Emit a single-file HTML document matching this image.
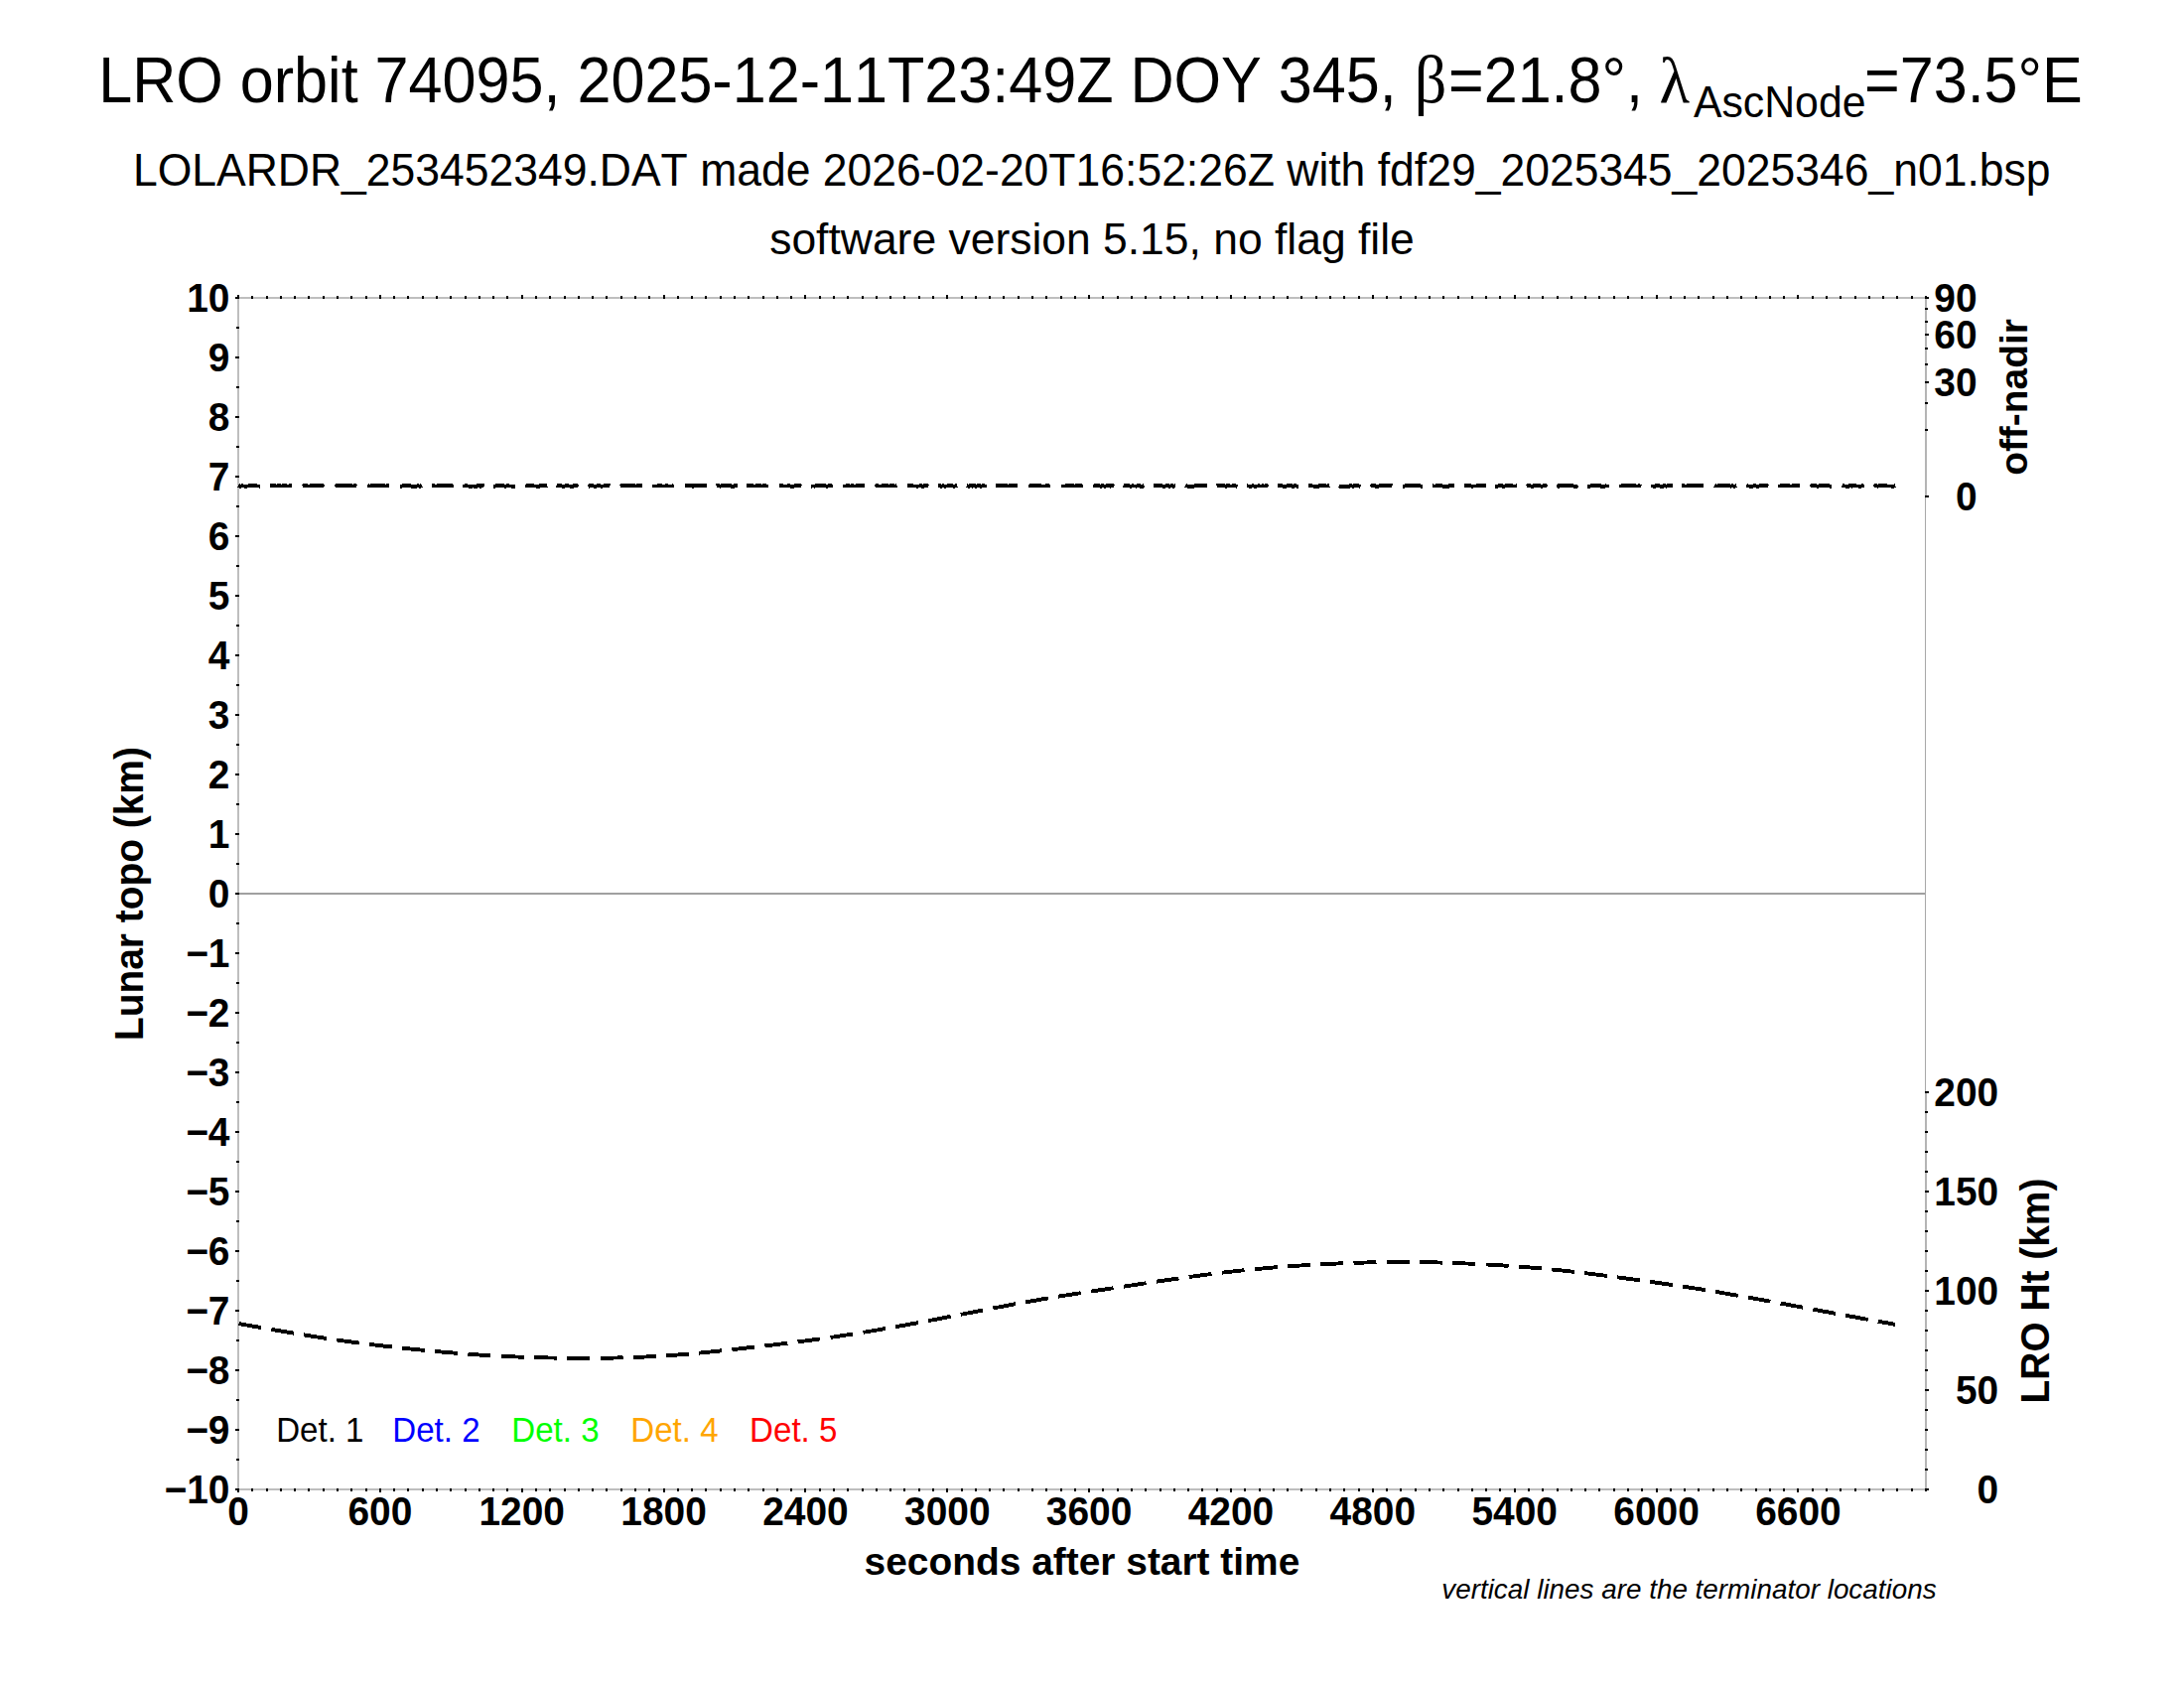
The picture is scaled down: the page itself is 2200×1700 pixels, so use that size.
<!DOCTYPE html>
<html><head><meta charset="utf-8"><title>LRO orbit 74095</title>
<style>html,body{margin:0;padding:0;background:#fff}svg{display:block}text{font-kerning:none;font-family:"Liberation Sans",Helvetica,Arial,sans-serif;fill:#000;white-space:pre}.b{font-weight:bold}.i{font-style:italic}.s{font-family:"Liberation Serif",serif}</style></head><body>
<svg width="2200" height="1700" viewBox="0 0 2200 1700">
<rect width="2200" height="1700" fill="#fff"/>
<text transform="translate(0,103.2) scale(1,1.05)" font-size="61.11"><tspan x="99.2">LRO orbit 74095, 2025-12-11T23:49Z DOY 345, </tspan><tspan class="s" font-size="64" x="1424.8">β</tspan><tspan x="1459">=21.8°, </tspan><tspan class="s" font-size="63" x="1671.5">λ</tspan><tspan font-size="42.78" x="1705.9" dy="13.90">AscNode</tspan><tspan x="1878" dy="-13.90">=73.5°E</tspan></text>
<text transform="translate(133.89,187.10) scale(1,1.045)" font-size="44.5">LOLARDR_253452349.DAT made 2026-02-20T16:52:26Z with fdf29_2025345_2025346_n01.bsp</text>
<text transform="translate(775.16,256.10)" font-size="44.44">software version 5.15, no flag file</text>
<rect x="241" y="899" width="1698" height="2" fill="#a0a0a0"/>
<g fill="#bebebe">
<rect x="239" y="299" width="2" height="1202"/>
<rect x="239" y="299" width="1702" height="2"/>
<rect x="239" y="1499" width="1702" height="2"/>
</g>
<rect x="1939" y="299" width="1" height="1202" fill="#a8a8a8"/>
<rect x="1939" y="299" width="2" height="201" fill="#b4b4b4"/>
<rect x="1939" y="1099" width="2" height="402" fill="#b4b4b4"/>
<g fill="#000">
<rect x="239.00" y="297" width="2" height="4"/>
<rect x="239.00" y="1499" width="2" height="4"/>
<rect x="253.00" y="298" width="2" height="3"/>
<rect x="253.00" y="1499" width="2" height="3"/>
<rect x="268.00" y="298" width="2" height="3"/>
<rect x="268.00" y="1499" width="2" height="3"/>
<rect x="282.00" y="298" width="2" height="3"/>
<rect x="282.00" y="1499" width="2" height="3"/>
<rect x="296.00" y="298" width="2" height="3"/>
<rect x="296.00" y="1499" width="2" height="3"/>
<rect x="310.00" y="298" width="2" height="3"/>
<rect x="310.00" y="1499" width="2" height="3"/>
<rect x="325.00" y="298" width="2" height="3"/>
<rect x="325.00" y="1499" width="2" height="3"/>
<rect x="339.00" y="298" width="2" height="3"/>
<rect x="339.00" y="1499" width="2" height="3"/>
<rect x="353.00" y="298" width="2" height="3"/>
<rect x="353.00" y="1499" width="2" height="3"/>
<rect x="368.00" y="298" width="2" height="3"/>
<rect x="368.00" y="1499" width="2" height="3"/>
<rect x="382.00" y="297" width="2" height="4"/>
<rect x="382.00" y="1499" width="2" height="4"/>
<rect x="396.00" y="298" width="2" height="3"/>
<rect x="396.00" y="1499" width="2" height="3"/>
<rect x="410.00" y="298" width="2" height="3"/>
<rect x="410.00" y="1499" width="2" height="3"/>
<rect x="425.00" y="298" width="2" height="3"/>
<rect x="425.00" y="1499" width="2" height="3"/>
<rect x="439.00" y="298" width="2" height="3"/>
<rect x="439.00" y="1499" width="2" height="3"/>
<rect x="453.00" y="298" width="2" height="3"/>
<rect x="453.00" y="1499" width="2" height="3"/>
<rect x="468.00" y="298" width="2" height="3"/>
<rect x="468.00" y="1499" width="2" height="3"/>
<rect x="482.00" y="298" width="2" height="3"/>
<rect x="482.00" y="1499" width="2" height="3"/>
<rect x="496.00" y="298" width="2" height="3"/>
<rect x="496.00" y="1499" width="2" height="3"/>
<rect x="510.00" y="298" width="2" height="3"/>
<rect x="510.00" y="1499" width="2" height="3"/>
<rect x="525.00" y="297" width="2" height="4"/>
<rect x="525.00" y="1499" width="2" height="4"/>
<rect x="539.00" y="298" width="2" height="3"/>
<rect x="539.00" y="1499" width="2" height="3"/>
<rect x="553.00" y="298" width="2" height="3"/>
<rect x="553.00" y="1499" width="2" height="3"/>
<rect x="568.00" y="298" width="2" height="3"/>
<rect x="568.00" y="1499" width="2" height="3"/>
<rect x="582.00" y="298" width="2" height="3"/>
<rect x="582.00" y="1499" width="2" height="3"/>
<rect x="596.00" y="298" width="2" height="3"/>
<rect x="596.00" y="1499" width="2" height="3"/>
<rect x="610.00" y="298" width="2" height="3"/>
<rect x="610.00" y="1499" width="2" height="3"/>
<rect x="625.00" y="298" width="2" height="3"/>
<rect x="625.00" y="1499" width="2" height="3"/>
<rect x="639.00" y="298" width="2" height="3"/>
<rect x="639.00" y="1499" width="2" height="3"/>
<rect x="653.00" y="298" width="2" height="3"/>
<rect x="653.00" y="1499" width="2" height="3"/>
<rect x="668.00" y="297" width="2" height="4"/>
<rect x="668.00" y="1499" width="2" height="4"/>
<rect x="682.00" y="298" width="2" height="3"/>
<rect x="682.00" y="1499" width="2" height="3"/>
<rect x="696.00" y="298" width="2" height="3"/>
<rect x="696.00" y="1499" width="2" height="3"/>
<rect x="710.00" y="298" width="2" height="3"/>
<rect x="710.00" y="1499" width="2" height="3"/>
<rect x="725.00" y="298" width="2" height="3"/>
<rect x="725.00" y="1499" width="2" height="3"/>
<rect x="739.00" y="298" width="2" height="3"/>
<rect x="739.00" y="1499" width="2" height="3"/>
<rect x="753.00" y="298" width="2" height="3"/>
<rect x="753.00" y="1499" width="2" height="3"/>
<rect x="768.00" y="298" width="2" height="3"/>
<rect x="768.00" y="1499" width="2" height="3"/>
<rect x="782.00" y="298" width="2" height="3"/>
<rect x="782.00" y="1499" width="2" height="3"/>
<rect x="796.00" y="298" width="2" height="3"/>
<rect x="796.00" y="1499" width="2" height="3"/>
<rect x="810.00" y="297" width="2" height="4"/>
<rect x="810.00" y="1499" width="2" height="4"/>
<rect x="825.00" y="298" width="2" height="3"/>
<rect x="825.00" y="1499" width="2" height="3"/>
<rect x="839.00" y="298" width="2" height="3"/>
<rect x="839.00" y="1499" width="2" height="3"/>
<rect x="853.00" y="298" width="2" height="3"/>
<rect x="853.00" y="1499" width="2" height="3"/>
<rect x="868.00" y="298" width="2" height="3"/>
<rect x="868.00" y="1499" width="2" height="3"/>
<rect x="882.00" y="298" width="2" height="3"/>
<rect x="882.00" y="1499" width="2" height="3"/>
<rect x="896.00" y="298" width="2" height="3"/>
<rect x="896.00" y="1499" width="2" height="3"/>
<rect x="910.00" y="298" width="2" height="3"/>
<rect x="910.00" y="1499" width="2" height="3"/>
<rect x="925.00" y="298" width="2" height="3"/>
<rect x="925.00" y="1499" width="2" height="3"/>
<rect x="939.00" y="298" width="2" height="3"/>
<rect x="939.00" y="1499" width="2" height="3"/>
<rect x="953.00" y="297" width="2" height="4"/>
<rect x="953.00" y="1499" width="2" height="4"/>
<rect x="968.00" y="298" width="2" height="3"/>
<rect x="968.00" y="1499" width="2" height="3"/>
<rect x="982.00" y="298" width="2" height="3"/>
<rect x="982.00" y="1499" width="2" height="3"/>
<rect x="996.00" y="298" width="2" height="3"/>
<rect x="996.00" y="1499" width="2" height="3"/>
<rect x="1010.00" y="298" width="2" height="3"/>
<rect x="1010.00" y="1499" width="2" height="3"/>
<rect x="1025.00" y="298" width="2" height="3"/>
<rect x="1025.00" y="1499" width="2" height="3"/>
<rect x="1039.00" y="298" width="2" height="3"/>
<rect x="1039.00" y="1499" width="2" height="3"/>
<rect x="1053.00" y="298" width="2" height="3"/>
<rect x="1053.00" y="1499" width="2" height="3"/>
<rect x="1068.00" y="298" width="2" height="3"/>
<rect x="1068.00" y="1499" width="2" height="3"/>
<rect x="1082.00" y="298" width="2" height="3"/>
<rect x="1082.00" y="1499" width="2" height="3"/>
<rect x="1096.00" y="297" width="2" height="4"/>
<rect x="1096.00" y="1499" width="2" height="4"/>
<rect x="1110.00" y="298" width="2" height="3"/>
<rect x="1110.00" y="1499" width="2" height="3"/>
<rect x="1125.00" y="298" width="2" height="3"/>
<rect x="1125.00" y="1499" width="2" height="3"/>
<rect x="1139.00" y="298" width="2" height="3"/>
<rect x="1139.00" y="1499" width="2" height="3"/>
<rect x="1153.00" y="298" width="2" height="3"/>
<rect x="1153.00" y="1499" width="2" height="3"/>
<rect x="1168.00" y="298" width="2" height="3"/>
<rect x="1168.00" y="1499" width="2" height="3"/>
<rect x="1182.00" y="298" width="2" height="3"/>
<rect x="1182.00" y="1499" width="2" height="3"/>
<rect x="1196.00" y="298" width="2" height="3"/>
<rect x="1196.00" y="1499" width="2" height="3"/>
<rect x="1210.00" y="298" width="2" height="3"/>
<rect x="1210.00" y="1499" width="2" height="3"/>
<rect x="1225.00" y="298" width="2" height="3"/>
<rect x="1225.00" y="1499" width="2" height="3"/>
<rect x="1239.00" y="297" width="2" height="4"/>
<rect x="1239.00" y="1499" width="2" height="4"/>
<rect x="1253.00" y="298" width="2" height="3"/>
<rect x="1253.00" y="1499" width="2" height="3"/>
<rect x="1268.00" y="298" width="2" height="3"/>
<rect x="1268.00" y="1499" width="2" height="3"/>
<rect x="1282.00" y="298" width="2" height="3"/>
<rect x="1282.00" y="1499" width="2" height="3"/>
<rect x="1296.00" y="298" width="2" height="3"/>
<rect x="1296.00" y="1499" width="2" height="3"/>
<rect x="1310.00" y="298" width="2" height="3"/>
<rect x="1310.00" y="1499" width="2" height="3"/>
<rect x="1325.00" y="298" width="2" height="3"/>
<rect x="1325.00" y="1499" width="2" height="3"/>
<rect x="1339.00" y="298" width="2" height="3"/>
<rect x="1339.00" y="1499" width="2" height="3"/>
<rect x="1353.00" y="298" width="2" height="3"/>
<rect x="1353.00" y="1499" width="2" height="3"/>
<rect x="1368.00" y="298" width="2" height="3"/>
<rect x="1368.00" y="1499" width="2" height="3"/>
<rect x="1382.00" y="297" width="2" height="4"/>
<rect x="1382.00" y="1499" width="2" height="4"/>
<rect x="1396.00" y="298" width="2" height="3"/>
<rect x="1396.00" y="1499" width="2" height="3"/>
<rect x="1410.00" y="298" width="2" height="3"/>
<rect x="1410.00" y="1499" width="2" height="3"/>
<rect x="1425.00" y="298" width="2" height="3"/>
<rect x="1425.00" y="1499" width="2" height="3"/>
<rect x="1439.00" y="298" width="2" height="3"/>
<rect x="1439.00" y="1499" width="2" height="3"/>
<rect x="1453.00" y="298" width="2" height="3"/>
<rect x="1453.00" y="1499" width="2" height="3"/>
<rect x="1468.00" y="298" width="2" height="3"/>
<rect x="1468.00" y="1499" width="2" height="3"/>
<rect x="1482.00" y="298" width="2" height="3"/>
<rect x="1482.00" y="1499" width="2" height="3"/>
<rect x="1496.00" y="298" width="2" height="3"/>
<rect x="1496.00" y="1499" width="2" height="3"/>
<rect x="1510.00" y="298" width="2" height="3"/>
<rect x="1510.00" y="1499" width="2" height="3"/>
<rect x="1525.00" y="297" width="2" height="4"/>
<rect x="1525.00" y="1499" width="2" height="4"/>
<rect x="1539.00" y="298" width="2" height="3"/>
<rect x="1539.00" y="1499" width="2" height="3"/>
<rect x="1553.00" y="298" width="2" height="3"/>
<rect x="1553.00" y="1499" width="2" height="3"/>
<rect x="1568.00" y="298" width="2" height="3"/>
<rect x="1568.00" y="1499" width="2" height="3"/>
<rect x="1582.00" y="298" width="2" height="3"/>
<rect x="1582.00" y="1499" width="2" height="3"/>
<rect x="1596.00" y="298" width="2" height="3"/>
<rect x="1596.00" y="1499" width="2" height="3"/>
<rect x="1610.00" y="298" width="2" height="3"/>
<rect x="1610.00" y="1499" width="2" height="3"/>
<rect x="1625.00" y="298" width="2" height="3"/>
<rect x="1625.00" y="1499" width="2" height="3"/>
<rect x="1639.00" y="298" width="2" height="3"/>
<rect x="1639.00" y="1499" width="2" height="3"/>
<rect x="1653.00" y="298" width="2" height="3"/>
<rect x="1653.00" y="1499" width="2" height="3"/>
<rect x="1668.00" y="297" width="2" height="4"/>
<rect x="1668.00" y="1499" width="2" height="4"/>
<rect x="1682.00" y="298" width="2" height="3"/>
<rect x="1682.00" y="1499" width="2" height="3"/>
<rect x="1696.00" y="298" width="2" height="3"/>
<rect x="1696.00" y="1499" width="2" height="3"/>
<rect x="1710.00" y="298" width="2" height="3"/>
<rect x="1710.00" y="1499" width="2" height="3"/>
<rect x="1725.00" y="298" width="2" height="3"/>
<rect x="1725.00" y="1499" width="2" height="3"/>
<rect x="1739.00" y="298" width="2" height="3"/>
<rect x="1739.00" y="1499" width="2" height="3"/>
<rect x="1753.00" y="298" width="2" height="3"/>
<rect x="1753.00" y="1499" width="2" height="3"/>
<rect x="1768.00" y="298" width="2" height="3"/>
<rect x="1768.00" y="1499" width="2" height="3"/>
<rect x="1782.00" y="298" width="2" height="3"/>
<rect x="1782.00" y="1499" width="2" height="3"/>
<rect x="1796.00" y="298" width="2" height="3"/>
<rect x="1796.00" y="1499" width="2" height="3"/>
<rect x="1810.00" y="297" width="2" height="4"/>
<rect x="1810.00" y="1499" width="2" height="4"/>
<rect x="1825.00" y="298" width="2" height="3"/>
<rect x="1825.00" y="1499" width="2" height="3"/>
<rect x="1839.00" y="298" width="2" height="3"/>
<rect x="1839.00" y="1499" width="2" height="3"/>
<rect x="1853.00" y="298" width="2" height="3"/>
<rect x="1853.00" y="1499" width="2" height="3"/>
<rect x="1868.00" y="298" width="2" height="3"/>
<rect x="1868.00" y="1499" width="2" height="3"/>
<rect x="1882.00" y="298" width="2" height="3"/>
<rect x="1882.00" y="1499" width="2" height="3"/>
<rect x="1896.00" y="298" width="2" height="3"/>
<rect x="1896.00" y="1499" width="2" height="3"/>
<rect x="1910.00" y="298" width="2" height="3"/>
<rect x="1910.00" y="1499" width="2" height="3"/>
<rect x="1925.00" y="298" width="2" height="3"/>
<rect x="1925.00" y="1499" width="2" height="3"/>
<rect x="1939.00" y="298" width="2" height="3"/>
<rect x="1939.00" y="1499" width="2" height="3"/>
<rect x="237" y="299" width="4" height="2"/>
<rect x="238" y="329" width="3" height="2"/>
<rect x="237" y="359" width="4" height="2"/>
<rect x="238" y="389" width="3" height="2"/>
<rect x="237" y="419" width="4" height="2"/>
<rect x="238" y="449" width="3" height="2"/>
<rect x="237" y="479" width="4" height="2"/>
<rect x="238" y="509" width="3" height="2"/>
<rect x="237" y="539" width="4" height="2"/>
<rect x="238" y="569" width="3" height="2"/>
<rect x="237" y="599" width="4" height="2"/>
<rect x="238" y="629" width="3" height="2"/>
<rect x="237" y="659" width="4" height="2"/>
<rect x="238" y="689" width="3" height="2"/>
<rect x="237" y="719" width="4" height="2"/>
<rect x="238" y="749" width="3" height="2"/>
<rect x="237" y="779" width="4" height="2"/>
<rect x="238" y="809" width="3" height="2"/>
<rect x="237" y="839" width="4" height="2"/>
<rect x="238" y="869" width="3" height="2"/>
<rect x="237" y="899" width="4" height="2"/>
<rect x="238" y="929" width="3" height="2"/>
<rect x="237" y="959" width="4" height="2"/>
<rect x="238" y="989" width="3" height="2"/>
<rect x="237" y="1019" width="4" height="2"/>
<rect x="238" y="1049" width="3" height="2"/>
<rect x="237" y="1079" width="4" height="2"/>
<rect x="238" y="1109" width="3" height="2"/>
<rect x="237" y="1139" width="4" height="2"/>
<rect x="238" y="1169" width="3" height="2"/>
<rect x="237" y="1199" width="4" height="2"/>
<rect x="238" y="1229" width="3" height="2"/>
<rect x="237" y="1259" width="4" height="2"/>
<rect x="238" y="1289" width="3" height="2"/>
<rect x="237" y="1319" width="4" height="2"/>
<rect x="238" y="1349" width="3" height="2"/>
<rect x="237" y="1379" width="4" height="2"/>
<rect x="238" y="1409" width="3" height="2"/>
<rect x="237" y="1439" width="4" height="2"/>
<rect x="238" y="1469" width="3" height="2"/>
<rect x="237" y="1499" width="4" height="2"/>
<rect x="1939" y="1499" width="4" height="2"/>
<rect x="1939" y="1479" width="3" height="2"/>
<rect x="1939" y="1459" width="3" height="2"/>
<rect x="1939" y="1439" width="3" height="2"/>
<rect x="1939" y="1419" width="3" height="2"/>
<rect x="1939" y="1399" width="4" height="2"/>
<rect x="1939" y="1379" width="3" height="2"/>
<rect x="1939" y="1359" width="3" height="2"/>
<rect x="1939" y="1339" width="3" height="2"/>
<rect x="1939" y="1319" width="3" height="2"/>
<rect x="1939" y="1299" width="4" height="2"/>
<rect x="1939" y="1279" width="3" height="2"/>
<rect x="1939" y="1259" width="3" height="2"/>
<rect x="1939" y="1239" width="3" height="2"/>
<rect x="1939" y="1219" width="3" height="2"/>
<rect x="1939" y="1199" width="4" height="2"/>
<rect x="1939" y="1179" width="3" height="2"/>
<rect x="1939" y="1159" width="3" height="2"/>
<rect x="1939" y="1139" width="3" height="2"/>
<rect x="1939" y="1119" width="3" height="2"/>
<rect x="1939" y="1099" width="4" height="2"/>
<rect x="1939" y="499.00" width="4" height="2"/>
<rect x="1939" y="432.00" width="3" height="2"/>
<rect x="1939" y="405.00" width="3" height="2"/>
<rect x="1939" y="384.00" width="4" height="2"/>
<rect x="1939" y="366.00" width="3" height="2"/>
<rect x="1939" y="350.00" width="3" height="2"/>
<rect x="1939" y="336.00" width="4" height="2"/>
<rect x="1939" y="323.00" width="3" height="2"/>
<rect x="1939" y="310.00" width="3" height="2"/>
<rect x="1939" y="299.00" width="4" height="2"/>
</g>
<text transform="translate(188.23,314.10) scale(1,1.025)" font-size="38.9" class="b">10</text>
<text transform="translate(209.87,374.10) scale(1,1.025)" font-size="38.9" class="b">9</text>
<text transform="translate(209.87,434.10) scale(1,1.025)" font-size="38.9" class="b">8</text>
<text transform="translate(209.87,494.10) scale(1,1.025)" font-size="38.9" class="b">7</text>
<text transform="translate(209.87,554.10) scale(1,1.025)" font-size="38.9" class="b">6</text>
<text transform="translate(209.87,614.10) scale(1,1.025)" font-size="38.9" class="b">5</text>
<text transform="translate(209.87,674.10) scale(1,1.025)" font-size="38.9" class="b">4</text>
<text transform="translate(209.87,734.10) scale(1,1.025)" font-size="38.9" class="b">3</text>
<text transform="translate(209.87,794.10) scale(1,1.025)" font-size="38.9" class="b">2</text>
<text transform="translate(209.87,854.10) scale(1,1.025)" font-size="38.9" class="b">1</text>
<text transform="translate(209.87,914.10) scale(1,1.025)" font-size="38.9" class="b">0</text>
<text transform="translate(187.15,974.10) scale(1,1.025)" font-size="38.9" class="b">−1</text>
<text transform="translate(187.15,1034.10) scale(1,1.025)" font-size="38.9" class="b">−2</text>
<text transform="translate(187.15,1094.10) scale(1,1.025)" font-size="38.9" class="b">−3</text>
<text transform="translate(187.15,1154.10) scale(1,1.025)" font-size="38.9" class="b">−4</text>
<text transform="translate(187.15,1214.10) scale(1,1.025)" font-size="38.9" class="b">−5</text>
<text transform="translate(187.15,1274.10) scale(1,1.025)" font-size="38.9" class="b">−6</text>
<text transform="translate(187.15,1334.10) scale(1,1.025)" font-size="38.9" class="b">−7</text>
<text transform="translate(187.15,1394.10) scale(1,1.025)" font-size="38.9" class="b">−8</text>
<text transform="translate(187.15,1454.10) scale(1,1.025)" font-size="38.9" class="b">−9</text>
<text transform="translate(165.51,1514.10) scale(1,1.025)" font-size="38.9" class="b">−10</text>
<text transform="translate(229.18,1536.30) scale(1,1.025)" font-size="38.9" class="b">0</text>
<text transform="translate(350.41,1536.30) scale(1,1.025)" font-size="38.9" class="b">600</text>
<text transform="translate(482.45,1536.30) scale(1,1.025)" font-size="38.9" class="b">1200</text>
<text transform="translate(625.30,1536.30) scale(1,1.025)" font-size="38.9" class="b">1800</text>
<text transform="translate(768.16,1536.30) scale(1,1.025)" font-size="38.9" class="b">2400</text>
<text transform="translate(911.02,1536.30) scale(1,1.025)" font-size="38.9" class="b">3000</text>
<text transform="translate(1053.87,1536.30) scale(1,1.025)" font-size="38.9" class="b">3600</text>
<text transform="translate(1196.73,1536.30) scale(1,1.025)" font-size="38.9" class="b">4200</text>
<text transform="translate(1339.59,1536.30) scale(1,1.025)" font-size="38.9" class="b">4800</text>
<text transform="translate(1482.45,1536.30) scale(1,1.025)" font-size="38.9" class="b">5400</text>
<text transform="translate(1625.30,1536.30) scale(1,1.025)" font-size="38.9" class="b">6000</text>
<text transform="translate(1768.16,1536.30) scale(1,1.025)" font-size="38.9" class="b">6600</text>
<text transform="translate(1991.57,1514.10) scale(1,1.025)" font-size="38.9" class="b">0</text>
<text transform="translate(1969.93,1414.10) scale(1,1.025)" font-size="38.9" class="b">50</text>
<text transform="translate(1948.30,1314.10) scale(1,1.025)" font-size="38.9" class="b">100</text>
<text transform="translate(1948.30,1214.10) scale(1,1.025)" font-size="38.9" class="b">150</text>
<text transform="translate(1948.30,1114.10) scale(1,1.025)" font-size="38.9" class="b">200</text>
<text transform="translate(1969.97,514.10) scale(1,1.025)" font-size="38.9" class="b">0</text>
<text transform="translate(1948.33,398.63) scale(1,1.025)" font-size="38.9" class="b">30</text>
<text transform="translate(1948.33,350.80) scale(1,1.025)" font-size="38.9" class="b">60</text>
<text transform="translate(1948.33,314.10) scale(1,1.025)" font-size="38.9" class="b">90</text>
<text transform="translate(870.57,1585.80)" font-size="38.9" class="b">seconds after start time</text>
<text transform="translate(144.20,1048.02) rotate(-90) scale(1,1.03)" font-size="38.9" class="b">Lunar topo (km)</text>
<text transform="translate(2041.70,478.86) rotate(-90)" font-size="38.9" class="b">off-nadir</text>
<text transform="translate(2064.40,1413.45) rotate(-90) scale(1,1.05)" font-size="38.9" class="b">LRO Ht (km)</text>
<text transform="translate(278.20,1451.80) scale(1,1.045)" font-size="33.1">Det. 1</text>
<text transform="translate(395.30,1451.80) scale(1,1.045)" font-size="33.1" style="fill:#0000ff">Det. 2</text>
<text transform="translate(515.30,1451.80) scale(1,1.045)" font-size="33.1" style="fill:#00ff00">Det. 3</text>
<text transform="translate(635.30,1451.80) scale(1,1.045)" font-size="33.1" style="fill:#ffa500">Det. 4</text>
<text transform="translate(755.10,1451.80) scale(1,1.045)" font-size="33.1" style="fill:#ff0000">Det. 5</text>
<text transform="translate(1452.27,1610.40)" font-size="27.85" class="i">vertical lines are the terminator locations</text>
<path d="M240.0,1333.00 L247.0,1334.23 L254.0,1335.46 L260.9,1336.68 L267.9,1337.90 L274.9,1339.11 L281.9,1340.31 L288.9,1341.50 L295.9,1342.67 L302.8,1343.82 L309.8,1344.95 L316.8,1346.06 L323.8,1347.15 L330.8,1348.21 L337.8,1349.24 L344.7,1350.24 L351.7,1351.21 L358.7,1352.14 L365.7,1353.04 L372.7,1353.91 L379.7,1354.75 L386.6,1355.57 L393.6,1356.36 L400.6,1357.13 L407.6,1357.88 L414.6,1358.61 L421.6,1359.32 L428.5,1360.01 L435.5,1360.68 L442.5,1361.33 L449.5,1361.95 L456.5,1362.55 L463.5,1363.12 L470.4,1363.66 L477.4,1364.16 L484.4,1364.63 L491.4,1365.07 L498.4,1365.47 L505.4,1365.83 L512.3,1366.17 L519.3,1366.47 L526.3,1366.73 L533.3,1366.97 L540.3,1367.18 L547.3,1367.35 L554.2,1367.50 L561.2,1367.62 L568.2,1367.71 L575.2,1367.77 L582.2,1367.81 L589.2,1367.82 L596.1,1367.80 L603.1,1367.76 L610.1,1367.68 L617.1,1367.57 L624.1,1367.42 L631.1,1367.23 L638.0,1367.01 L645.0,1366.74 L652.0,1366.43 L659.0,1366.08 L666.0,1365.68 L673.0,1365.23 L679.9,1364.73 L686.9,1364.19 L693.9,1363.59 L700.9,1362.96 L707.9,1362.28 L714.9,1361.58 L721.8,1360.85 L728.8,1360.10 L735.8,1359.33 L742.8,1358.55 L749.8,1357.77 L756.8,1356.98 L763.7,1356.19 L770.7,1355.38 L777.7,1354.57 L784.7,1353.75 L791.7,1352.90 L798.7,1352.04 L805.6,1351.16 L812.6,1350.25 L819.6,1349.31 L826.6,1348.35 L833.6,1347.35 L840.6,1346.33 L847.5,1345.29 L854.5,1344.21 L861.5,1343.11 L868.5,1341.99 L875.5,1340.84 L882.5,1339.67 L889.4,1338.47 L896.4,1337.25 L903.4,1336.01 L910.4,1334.75 L917.4,1333.48 L924.4,1332.18 L931.3,1330.87 L938.3,1329.55 L945.3,1328.21 L952.3,1326.86 L959.3,1325.50 L966.3,1324.14 L973.2,1322.77 L980.2,1321.40 L987.2,1320.04 L994.2,1318.68 L1001.2,1317.34 L1008.2,1316.00 L1015.1,1314.68 L1022.1,1313.38 L1029.1,1312.10 L1036.1,1310.84 L1043.1,1309.60 L1050.1,1308.39 L1057.0,1307.20 L1064.0,1306.04 L1071.0,1304.90 L1078.0,1303.79 L1085.0,1302.71 L1092.0,1301.65 L1098.9,1300.60 L1105.9,1299.56 L1112.9,1298.51 L1119.9,1297.46 L1126.9,1296.41 L1133.9,1295.35 L1140.8,1294.29 L1147.8,1293.24 L1154.8,1292.19 L1161.8,1291.16 L1168.8,1290.13 L1175.8,1289.11 L1182.7,1288.10 L1189.7,1287.12 L1196.7,1286.15 L1203.7,1285.20 L1210.7,1284.27 L1217.7,1283.37 L1224.6,1282.49 L1231.6,1281.65 L1238.6,1280.84 L1245.6,1280.06 L1252.6,1279.32 L1259.6,1278.61 L1266.5,1277.94 L1273.5,1277.30 L1280.5,1276.69 L1287.5,1276.12 L1294.5,1275.58 L1301.5,1275.07 L1308.4,1274.60 L1315.4,1274.15 L1322.4,1273.74 L1329.4,1273.36 L1336.4,1273.01 L1343.4,1272.68 L1350.3,1272.38 L1357.3,1272.10 L1364.3,1271.85 L1371.3,1271.62 L1378.3,1271.42 L1385.3,1271.24 L1392.2,1271.09 L1399.2,1270.97 L1406.2,1270.91 L1413.2,1270.90 L1420.2,1270.94 L1427.2,1271.02 L1434.1,1271.14 L1441.1,1271.30 L1448.1,1271.47 L1455.1,1271.68 L1462.1,1271.90 L1469.1,1272.16 L1476.0,1272.44 L1483.0,1272.74 L1490.0,1273.08 L1497.0,1273.45 L1504.0,1273.84 L1511.0,1274.27 L1517.9,1274.72 L1524.9,1275.21 L1531.9,1275.73 L1538.9,1276.28 L1545.9,1276.87 L1552.9,1277.49 L1559.8,1278.14 L1566.8,1278.83 L1573.8,1279.56 L1580.8,1280.32 L1587.8,1281.11 L1594.8,1281.94 L1601.7,1282.79 L1608.7,1283.66 L1615.7,1284.56 L1622.7,1285.47 L1629.7,1286.40 L1636.7,1287.33 L1643.6,1288.28 L1650.6,1289.23 L1657.6,1290.19 L1664.6,1291.16 L1671.6,1292.15 L1678.6,1293.15 L1685.5,1294.17 L1692.5,1295.21 L1699.5,1296.27 L1706.5,1297.36 L1713.5,1298.47 L1720.5,1299.61 L1727.4,1300.77 L1734.4,1301.96 L1741.4,1303.16 L1748.4,1304.38 L1755.4,1305.61 L1762.4,1306.86 L1769.3,1308.12 L1776.3,1309.39 L1783.3,1310.66 L1790.3,1311.95 L1797.3,1313.23 L1804.3,1314.53 L1811.2,1315.83 L1818.2,1317.13 L1825.2,1318.43 L1832.2,1319.73 L1839.2,1321.04 L1846.2,1322.34 L1853.1,1323.64 L1860.1,1324.93 L1867.1,1326.22 L1874.1,1327.50 L1881.1,1328.78 L1888.1,1330.05 L1895.0,1331.31 L1902.0,1332.56 L1909.0,1333.80" fill="none" stroke="#000" stroke-width="3.9" stroke-dasharray="23.0 10.3" stroke-dashoffset="-0.5" shape-rendering="crispEdges"/>
<path d="M240.0,488.71 L242.0,489.69 L244.0,489.21 L246.0,489.61 L248.0,489.97 L250.0,489.35 L252.0,489.30 L254.0,488.70 L256.0,488.98 L258.0,489.30 L260.0,489.55 L262.0,489.73 M272.1,489.23 L274.1,489.04 L276.1,489.17 L278.1,489.55 L280.1,489.13 L282.1,489.27 L284.1,489.56 L286.1,489.01 L288.1,489.36 L290.1,489.57 L292.1,489.14 L294.1,489.33 M304.6,489.55 L306.6,489.08 L308.6,489.31 L310.6,489.45 L312.6,489.40 L314.6,489.28 L316.6,489.12 L318.6,489.29 L320.6,489.22 L322.6,489.29 L324.6,489.22 L326.6,489.50 M337.4,489.46 L339.4,489.19 L341.4,489.34 L343.4,489.17 L345.4,489.27 L347.4,489.21 L349.4,489.39 L351.4,489.22 L353.4,489.28 L355.4,489.43 L357.4,489.25 L359.4,489.54 M370.3,489.11 L372.3,489.44 L374.3,489.25 L376.3,489.26 L378.3,489.38 L380.3,489.31 L382.3,489.25 L384.3,489.00 L386.3,489.06 L388.3,489.43 L390.3,489.31 L392.3,489.42 M402.8,489.94 L404.8,489.56 L406.8,488.67 L408.8,489.03 L410.8,489.43 L412.8,488.93 L414.8,489.95 L416.8,489.92 L418.8,489.79 L420.8,489.26 L422.8,489.78 L424.8,488.78 M434.9,489.03 L436.9,489.25 L438.9,489.64 L440.8,489.28 L442.8,488.79 L444.8,489.08 L446.8,489.05 L448.8,489.02 L450.8,488.83 L452.7,489.18 L454.7,489.23 L456.7,489.68 M466.2,489.71 L468.2,489.33 L470.1,489.24 L472.1,489.69 L474.0,489.84 L476.0,489.54 L477.9,489.72 L479.9,489.91 L481.8,488.66 L483.8,489.83 L485.7,488.99 L487.7,489.27 M497.2,489.72 L499.2,489.60 L501.2,488.81 L503.2,489.52 L505.2,488.70 L507.2,489.10 L509.2,489.74 L511.2,489.20 L513.2,489.44 L515.2,489.62 L517.2,489.75 L519.2,489.66 M529.2,488.61 L531.2,489.19 L533.2,489.25 L535.1,488.68 L537.1,489.36 L539.1,489.45 L541.1,489.76 L543.1,489.92 L545.1,488.78 L547.0,488.92 L549.0,489.52 L551.0,488.79 M560.5,488.91 L562.5,489.40 L564.5,488.84 L566.5,489.70 L568.5,489.80 L570.5,488.65 L572.5,489.35 L574.5,489.72 L576.5,489.97 L578.5,488.98 L580.5,488.84 L582.5,489.83 M592.6,489.87 L594.6,488.88 L596.6,489.22 L598.6,489.61 L600.6,489.78 L602.6,488.84 L604.6,489.53 L606.6,489.73 L608.6,489.37 L610.6,488.83 L612.6,488.65 L614.6,488.99 M624.6,489.48 L626.6,489.03 L628.6,489.00 L630.6,489.22 L632.6,489.04 L634.6,489.09 L636.6,489.01 L638.6,489.31 L640.6,489.42 L642.6,489.26 L644.6,489.08 L646.6,489.20 M657.4,489.35 L659.4,489.56 L661.4,489.60 L663.4,489.14 L665.4,489.01 L667.4,489.50 L669.4,489.56 L671.4,489.28 L673.4,489.46 L675.4,489.52 L677.4,489.37 L679.4,489.52 M690.0,488.63 L692.0,488.98 L694.0,488.99 L696.0,488.77 L698.0,489.87 L700.0,488.64 L702.0,489.54 L704.0,488.70 L706.0,489.11 L708.0,489.19 L710.0,488.85 L712.0,489.33 M721.5,489.35 L723.4,489.04 L725.4,489.63 L727.3,488.82 L729.2,488.87 L731.2,489.10 L733.1,489.13 L735.1,488.89 L737.0,489.89 L738.9,489.76 L740.9,488.75 L742.8,489.12 M752.3,489.14 L754.3,489.27 L756.3,489.17 L758.3,489.30 L760.3,489.55 L762.3,489.23 L764.3,489.39 L766.3,489.36 L768.3,489.45 L770.3,489.04 L772.3,489.45 L774.3,489.57 M784.9,489.44 L786.9,489.00 L788.9,489.54 L790.9,489.60 L792.9,489.52 L794.9,488.81 L796.9,489.96 L798.9,489.94 L800.9,489.19 L802.9,489.43 L804.9,488.66 L806.9,489.98 M816.7,489.75 L818.7,489.49 L820.7,489.67 L822.7,488.86 L824.7,489.03 L826.7,488.94 L828.7,489.43 L830.7,488.73 L832.7,489.85 L834.7,489.25 L836.7,489.22 L838.7,488.75 M848.7,489.41 L850.7,489.49 L852.7,489.38 L854.7,489.15 L856.7,489.47 L858.7,489.09 L860.7,489.50 L862.7,489.35 L864.7,489.17 L866.7,489.31 L868.7,489.38 L870.7,489.16 M881.5,489.51 L883.5,489.25 L885.5,489.54 L887.5,489.50 L889.5,489.06 L891.5,489.39 L893.5,489.19 L895.5,489.45 L897.5,489.33 L899.5,489.27 L901.5,489.54 L903.5,489.03 M914.1,489.38 L916.0,489.06 L918.0,488.65 L919.9,489.65 L921.8,489.39 L923.8,489.85 L925.7,489.44 L927.7,489.07 L929.6,489.98 L931.5,488.76 L933.5,488.67 L935.4,489.63 M944.9,489.12 L946.7,489.11 L948.4,489.83 L950.2,489.06 L952.0,489.84 L953.7,489.50 L955.5,489.06 L957.2,488.68 L959.0,488.94 L960.8,489.96 L962.5,489.17 L964.3,488.82 M973.8,489.02 L975.6,489.86 L977.4,488.83 L979.3,489.69 L981.1,488.79 L982.9,489.95 L984.7,489.34 L986.5,488.66 L988.3,489.90 L990.2,489.10 L992.0,489.62 L993.8,489.33 M1003.3,489.06 L1005.3,489.06 L1007.3,489.09 L1009.3,489.10 L1011.3,489.03 L1013.3,489.03 L1015.3,489.57 L1017.3,489.05 L1019.3,489.31 L1021.3,489.07 L1023.3,489.13 L1025.3,489.46 M1035.9,489.56 L1037.9,489.28 L1039.9,489.00 L1041.9,489.60 L1043.9,489.03 L1045.9,489.23 L1047.9,489.32 L1049.9,489.54 L1051.9,489.49 L1053.9,489.37 L1055.9,489.24 L1057.9,489.50 M1068.7,489.52 L1070.7,489.52 L1072.7,489.43 L1074.7,489.06 L1076.7,489.18 L1078.7,489.29 L1080.7,489.30 L1082.7,489.50 L1084.7,489.14 L1086.7,489.40 L1088.7,489.22 L1090.7,489.47 M1101.3,488.87 L1103.2,489.27 L1105.1,488.74 L1106.9,488.90 L1108.8,489.91 L1110.7,489.04 L1112.6,489.85 L1114.5,489.33 L1116.4,488.65 L1118.2,489.71 L1120.1,488.67 L1122.0,489.76 M1131.5,488.61 L1133.4,489.54 L1135.3,488.83 L1137.3,489.08 L1139.2,489.93 L1141.1,489.28 L1143.0,489.52 L1144.9,489.64 L1146.8,488.75 L1148.8,489.77 L1150.7,489.88 L1152.6,488.82 M1162.1,489.36 L1164.1,489.00 L1166.1,489.64 L1168.1,488.64 L1170.1,489.32 L1172.1,489.71 L1174.1,489.63 L1176.1,488.75 L1178.1,489.77 L1180.1,488.93 L1182.1,489.73 L1184.1,489.30 M1194.1,488.83 L1196.1,489.63 L1198.1,489.73 L1200.1,489.58 L1202.1,489.95 L1204.1,488.96 L1206.1,488.93 L1208.1,488.81 L1210.1,489.36 L1212.1,489.16 L1214.1,489.10 L1216.1,489.24 M1225.6,488.98 L1227.5,488.61 L1229.4,489.26 L1231.3,488.99 L1233.2,489.23 L1235.1,489.90 L1236.9,488.85 L1238.8,489.49 L1240.7,489.50 L1242.6,488.99 L1244.5,489.26 L1246.4,489.96 M1255.9,489.08 L1257.9,489.60 L1259.9,489.78 L1261.8,489.10 L1263.8,489.99 L1265.8,489.48 L1267.8,489.30 L1269.8,489.60 L1271.8,489.19 L1273.7,489.60 L1275.7,488.98 L1277.7,489.90 M1287.2,489.36 L1289.1,488.94 L1291.1,489.21 L1293.0,489.85 L1294.9,489.73 L1296.8,489.28 L1298.8,489.09 L1300.7,489.13 L1302.6,489.97 L1304.5,488.76 L1306.5,489.84 L1308.4,489.80 M1317.9,488.91 L1319.8,489.09 L1321.8,489.40 L1323.7,489.72 L1325.6,489.93 L1327.6,489.99 L1329.5,488.99 L1331.5,488.87 L1333.4,489.28 L1335.3,489.38 L1337.3,489.52 L1339.2,488.75 M1348.7,489.50 L1350.7,489.89 L1352.7,489.88 L1354.7,489.92 L1356.7,489.89 L1358.7,489.95 L1360.7,488.67 L1362.7,489.88 L1364.7,488.98 L1366.7,489.05 L1368.7,489.24 L1370.7,489.94 M1380.5,489.45 L1382.5,489.09 L1384.5,489.12 L1386.5,489.87 L1388.5,489.75 L1390.5,488.79 L1392.5,488.95 L1394.5,489.12 L1396.5,488.90 L1398.5,489.39 L1400.5,488.91 L1402.5,489.40 M1412.6,489.91 L1414.5,489.79 L1416.4,488.74 L1418.2,488.89 L1420.1,489.18 L1422.0,489.50 L1423.9,489.14 L1425.8,488.95 L1427.7,489.08 L1429.5,488.89 L1431.4,489.81 L1433.3,489.58 M1442.8,489.18 L1444.8,489.58 L1446.8,489.33 L1448.8,489.34 L1450.8,489.11 L1452.8,489.28 L1454.8,489.98 L1456.8,489.70 L1458.8,489.76 L1460.8,488.77 L1462.8,489.31 L1464.8,489.11 M1474.9,488.72 L1476.9,489.15 L1478.9,488.70 L1480.8,488.93 L1482.8,489.72 L1484.8,489.56 L1486.8,489.58 L1488.8,488.71 L1490.8,488.83 L1492.7,488.63 L1494.7,488.74 L1496.7,488.74 M1506.2,489.94 L1508.2,489.85 L1510.2,488.89 L1512.2,488.96 L1514.2,489.95 L1516.2,489.40 L1518.2,489.12 L1520.2,489.25 L1522.2,488.98 L1524.2,489.42 L1526.2,489.62 L1528.2,489.32 M1537.7,489.75 L1539.6,488.76 L1541.5,489.45 L1543.4,489.99 L1545.3,488.81 L1547.2,489.29 L1549.2,489.48 L1551.1,489.07 L1553.0,489.95 L1554.9,489.28 L1556.8,489.27 L1558.7,489.86 M1568.2,488.62 L1570.2,489.82 L1572.1,488.78 L1574.1,489.13 L1576.0,489.28 L1578.0,489.27 L1579.9,488.66 L1581.9,489.04 L1583.8,489.10 L1585.8,489.94 L1587.7,489.88 L1589.7,489.42 M1599.2,489.91 L1601.2,489.81 L1603.2,489.13 L1605.2,488.76 L1607.2,489.45 L1609.2,489.05 L1611.2,488.61 L1613.2,489.97 L1615.2,489.96 L1617.2,489.35 L1619.2,489.47 L1621.2,489.54 M1631.3,489.90 L1633.3,489.25 L1635.3,489.42 L1637.2,488.92 L1639.2,488.94 L1641.2,489.33 L1643.2,488.92 L1645.2,488.64 L1647.2,489.12 L1649.1,489.65 L1651.1,488.99 L1653.1,489.81 M1662.6,489.58 L1664.6,489.51 L1666.6,489.85 L1668.6,488.70 L1670.6,488.85 L1672.6,489.87 L1674.6,489.87 L1676.6,488.71 L1678.6,489.68 L1680.6,488.62 L1682.6,488.79 L1684.6,488.75 M1694.1,489.18 L1696.1,489.23 L1698.1,489.55 L1700.1,489.26 L1702.1,489.07 L1704.1,489.16 L1706.1,489.00 L1708.1,489.02 L1710.1,489.26 L1712.1,489.31 L1714.1,489.15 L1716.1,489.23 M1727.2,488.74 L1729.2,489.52 L1731.2,489.15 L1733.2,488.83 L1735.2,489.30 L1737.2,488.89 L1739.2,489.01 L1741.2,488.77 L1743.2,489.69 L1745.2,488.99 L1747.2,489.94 L1749.2,489.17 M1759.2,488.82 L1761.2,489.59 L1763.2,489.63 L1765.2,489.83 L1767.2,488.78 L1769.2,489.71 L1771.2,489.80 L1773.2,489.03 L1775.2,489.24 L1777.2,489.47 L1779.2,488.94 L1781.2,489.82 M1790.8,489.42 L1792.8,489.51 L1794.8,489.27 L1796.8,489.31 L1798.8,489.12 L1800.8,489.19 L1802.8,489.44 L1804.8,489.58 L1806.8,489.09 L1808.8,489.03 L1810.8,489.04 L1812.8,489.26 M1823.3,489.71 L1825.3,488.91 L1827.3,489.27 L1829.3,489.32 L1831.3,489.77 L1833.3,488.83 L1835.3,488.62 L1837.3,489.31 L1839.3,489.10 L1841.3,489.01 L1843.3,489.68 L1845.3,489.56 M1855.6,488.72 L1857.6,489.37 L1859.6,489.72 L1861.6,489.87 L1863.6,488.60 L1865.6,489.73 L1867.6,488.66 L1869.6,489.55 L1871.6,489.44 L1873.6,489.93 L1875.6,489.48 L1877.6,488.70 M1887.4,489.54 L1889.4,488.96 L1891.4,489.76 L1893.4,488.64 L1895.4,489.05 L1897.4,489.55 L1899.4,488.82 L1901.4,489.50 L1903.4,489.58 L1905.4,489.63 L1907.4,489.83 L1909.4,489.18" fill="none" stroke="#000" stroke-width="3.8" stroke-linejoin="round" shape-rendering="crispEdges"/>
</svg></body></html>
